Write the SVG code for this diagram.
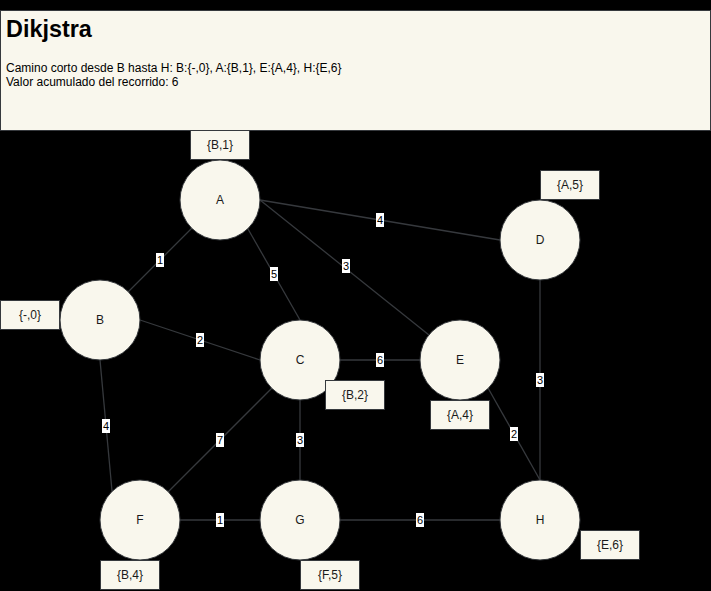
<svg xmlns="http://www.w3.org/2000/svg" width="711" height="591" viewBox="0 0 711 591">
<style>
.bg{fill:#000}
.box{fill:#f9f7ed;stroke:#36393d;stroke-width:1}
.node{fill:#f9f7ed;stroke:#36393d;stroke-width:1}
.t{font-family:"Liberation Sans",Arial,sans-serif;font-size:12px;fill:#1a1a1a;text-anchor:middle;dominant-baseline:central}
.edge{stroke:#36393d;stroke-width:1.3;fill:none}
.lb{fill:#fff}
.lt{font-family:"Liberation Sans",Arial,sans-serif;font-size:11px;fill:#000;text-anchor:middle;dominant-baseline:central}
.h{font-family:"Liberation Sans",Arial,sans-serif;fill:#000}
</style>
<rect class="bg" x="0" y="0" width="711" height="591"/>
<g id="header">
<rect class="box" x="0.5" y="10.5" width="710" height="120"/>
<text class="h" x="6" y="37" font-size="23.4" font-weight="bold">Dikjstra</text>
<text class="h" x="6" y="72" font-size="12">Camino corto desde B hasta H: B:{-,0}, A:{B,1}, E:{A,4}, H:{E,6}</text>
<text class="h" x="6" y="86" font-size="12">Valor acumulado del recorrido: 6</text>
</g>
<g id="connectors">
<line class="edge" x1="128" y1="292" x2="192" y2="228"/>
<line class="edge" x1="248" y1="229" x2="300" y2="320"/>
<line class="edge" x1="260" y1="200" x2="500" y2="240"/>
<line class="edge" x1="260" y1="200" x2="429" y2="335"/>
<line class="edge" x1="140" y1="320" x2="260" y2="360"/>
<line class="edge" x1="100" y1="360" x2="112" y2="491"/>
<line class="edge" x1="340" y1="360" x2="420" y2="360"/>
<line class="edge" x1="272" y1="388" x2="168" y2="492"/>
<line class="edge" x1="300" y1="400" x2="300" y2="480"/>
<line class="edge" x1="488" y1="388" x2="540" y2="480"/>
<line class="edge" x1="540" y1="280" x2="540" y2="480"/>
<line class="edge" x1="180" y1="520" x2="260" y2="520"/>
<line class="edge" x1="340" y1="520" x2="500" y2="520"/>
<g id="edge-labels">
<rect class="lb" x="156" y="253" width="8" height="14"/><text class="lt" x="160" y="260">1</text>
<rect class="lb" x="270" y="267" width="8" height="14"/><text class="lt" x="274" y="274">5</text>
<rect class="lb" x="376" y="213" width="8" height="14"/><text class="lt" x="380" y="220">4</text>
<rect class="lb" x="342" y="259" width="8" height="14"/><text class="lt" x="346" y="266">3</text>
<rect class="lb" x="196" y="333" width="8" height="14"/><text class="lt" x="200" y="340">2</text>
<rect class="lb" x="102" y="419" width="8" height="14"/><text class="lt" x="106" y="426">4</text>
<rect class="lb" x="376" y="353" width="8" height="14"/><text class="lt" x="380" y="360">6</text>
<rect class="lb" x="216" y="433" width="8" height="14"/><text class="lt" x="220" y="440">7</text>
<rect class="lb" x="296" y="433" width="8" height="14"/><text class="lt" x="300" y="440">3</text>
<rect class="lb" x="510" y="427" width="8" height="14"/><text class="lt" x="514" y="434">2</text>
<rect class="lb" x="536" y="373" width="8" height="14"/><text class="lt" x="540" y="380">3</text>
<rect class="lb" x="216" y="513" width="8" height="14"/><text class="lt" x="220" y="520">1</text>
<rect class="lb" x="416" y="513" width="8" height="14"/><text class="lt" x="420" y="520">6</text>
</g>
</g>
<g id="node-A"><circle class="node" cx="220" cy="200" r="40"/><text class="t" x="220" y="200">A</text></g>
<g id="node-B"><circle class="node" cx="100" cy="320" r="40"/><text class="t" x="100" y="320">B</text></g>
<g id="node-C"><circle class="node" cx="300" cy="360" r="40"/><text class="t" x="300" y="360">C</text></g>
<g id="node-D"><circle class="node" cx="540" cy="240" r="40"/><text class="t" x="540" y="240">D</text></g>
<g id="node-E"><circle class="node" cx="460" cy="360" r="40"/><text class="t" x="460" y="360">E</text></g>
<g id="node-F"><circle class="node" cx="140" cy="520" r="40"/><text class="t" x="140" y="520">F</text></g>
<g id="node-G"><circle class="node" cx="300" cy="520" r="40"/><text class="t" x="300" y="520">G</text></g>
<g id="node-H"><circle class="node" cx="540" cy="520" r="40"/><text class="t" x="540" y="520">H</text></g>
<g id="tag-A"><rect class="box" x="190.5" y="130.5" width="59" height="29"/><text class="t" x="220" y="145">{B,1}</text></g>
<g id="tag-B"><rect class="box" x="0.5" y="300.5" width="59" height="29"/><text class="t" x="30" y="315">{-,0}</text></g>
<g id="tag-C"><rect class="box" x="325.5" y="380.5" width="59" height="29"/><text class="t" x="355" y="395">{B,2}</text></g>
<g id="tag-D"><rect class="box" x="540.5" y="170.5" width="59" height="29"/><text class="t" x="570" y="185">{A,5}</text></g>
<g id="tag-E"><rect class="box" x="430.5" y="400.5" width="59" height="29"/><text class="t" x="460" y="415">{A,4}</text></g>
<g id="tag-F"><rect class="box" x="100.5" y="560.5" width="59" height="29"/><text class="t" x="130" y="575">{B,4}</text></g>
<g id="tag-G"><rect class="box" x="300.5" y="560.5" width="59" height="29"/><text class="t" x="330" y="575">{F,5}</text></g>
<g id="tag-H"><rect class="box" x="580.5" y="530.5" width="59" height="29"/><text class="t" x="610" y="545">{E,6}</text></g>
</svg>
